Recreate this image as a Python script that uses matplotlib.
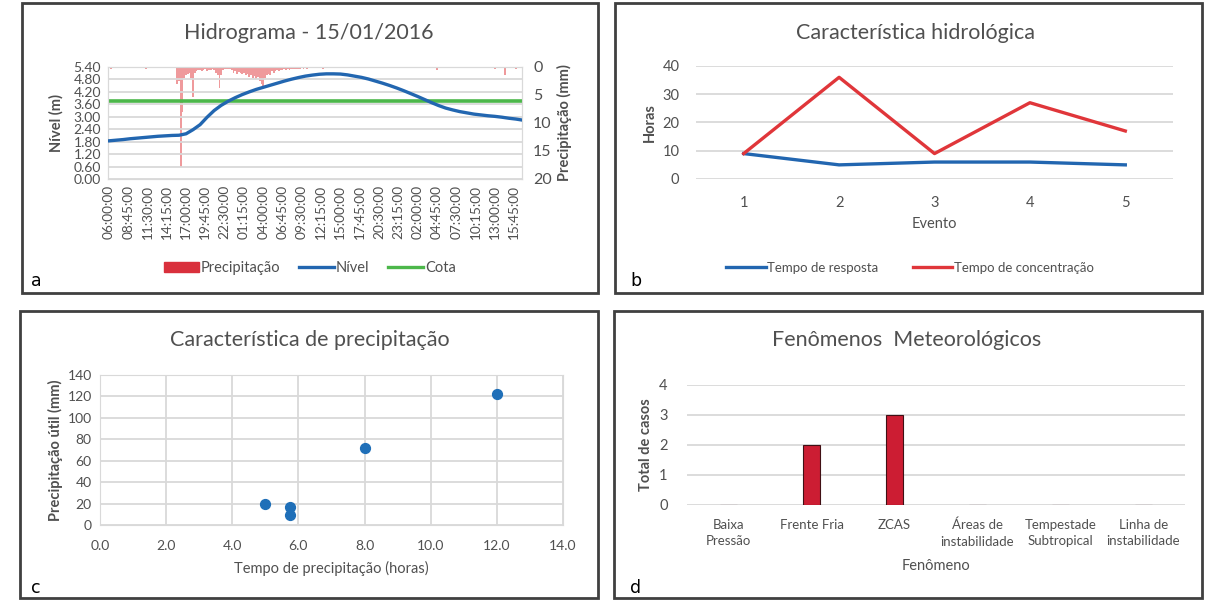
# -*- coding: utf-8 -*-
import numpy as np
import matplotlib.pyplot as plt
from matplotlib.patches import Rectangle, Patch
from matplotlib.lines import Line2D

plt.rcParams['font.family'] = ['Lato', 'DejaVu Sans']

W, H = 1205, 601
CINZA = '#505050'
GRADE = '#d9d9d9'
AZUL = '#2266b0'
VERMELHO = '#e0363a'
VERDE = '#4cb74a'

# ---- a) hidrograma: nível a cada hora (06:00 do dia 1 até 16:00 do dia 3) + 16:45 ----
nivel = [1.84, 1.87, 1.90, 1.94, 1.97, 2.00, 2.03, 2.06, 2.08, 2.10,
         2.11, 2.18, 2.38, 2.62, 2.98, 3.30, 3.55, 3.75, 3.92, 4.07,
         4.20, 4.32, 4.42, 4.52, 4.62, 4.72, 4.81, 4.89, 4.96, 5.01,
         5.05, 5.07, 5.07, 5.06, 5.02, 4.96, 4.90, 4.82, 4.72, 4.62,
         4.51, 4.39, 4.26, 4.12, 3.98, 3.83, 3.68, 3.54, 3.42, 3.33,
         3.25, 3.19, 3.13, 3.09, 3.05, 3.02, 2.98, 2.93, 2.89, 2.85]
cota = 3.78
n_registros = 236  # leituras de 15 em 15 minutos

# chuva (mm) a cada 15 min a partir do registro 39 (15:45 do dia 1)
chuva_ini = 39
chuva_evento = [3.0, 2.5, 17.9, 8.0, 2.0, 1.5, 1.2, 1.0, 2.0, 5.4,
                1.0, 0.8, 0.6, 0.5, 0.8, 0.6, 0.4, 0.7, 0.5, 0.5,
                0.4, 0.6, 1.0, 1.5, 3.8, 1.5, 0.5, 0.3, 0.3, 0.4,
                0.3, 0.6, 1.0, 0.8, 1.2, 0.9, 1.1, 1.3, 1.0, 1.5,
                1.2, 1.8, 1.4, 2.0, 1.6, 2.2, 1.8, 2.5, 3.0, 3.6,
                2.0, 1.5, 1.2, 1.4, 0.8, 1.0, 0.7, 0.6, 0.8, 0.5,
                0.6, 0.4, 0.5, 0.4, 0.5, 0.3, 0.4, 0.3, 0.4, 0.3,
                0.3, 0.2, 0.3, 0.2, 0.3, 0.2, 0.2, 0.2, 0.2]
chuva_isolada_reg = [1, 21, 122, 187, 220, 226, 232]
chuva_isolada_mm = [0.3, 0.3, 0.4, 0.6, 0.3, 1.4, 0.4]

horarios = ['06:00:00', '08:45:00', '11:30:00', '14:15:00', '17:00:00',
            '19:45:00', '22:30:00', '01:15:00', '04:00:00', '06:45:00',
            '09:30:00', '12:15:00', '15:00:00', '17:45:00', '20:30:00',
            '23:15:00', '02:00:00', '04:45:00', '07:30:00', '10:15:00',
            '13:00:00', '15:45:00']

# ---- b) característica hidrológica ----
eventos = [1, 2, 3, 4, 5]
tempo_resposta = [9, 5, 6, 6, 5]
tempo_concentracao = [9, 36, 9, 27, 17]

# ---- c) característica de precipitação ----
tempo_precip = [5.0, 5.75, 5.75, 8.0, 12.0]
precip_util = [20, 17, 9, 72, 122]

# ---- d) fenômenos meteorológicos ----
fenomenos = ['Baixa\nPressão', 'Frente Fria', 'ZCAS', 'Áreas de\ninstabilidade',
             'Tempestade\nSubtropical', 'Linha de\ninstabilidade']
total_casos = [0, 2, 3, 0, 0, 0]


def caixa(x0, y0, x1, y1):
    return [x0 / W, 1 - y1 / H, (x1 - x0) / W, (y1 - y0) / H]


def fx(x):
    return x / W


def fy(y):
    return 1 - y / H


def moldura(x0, y0, x1, y1):
    fig.add_artist(Rectangle((fx(x0), fy(y1)), (x1 - x0) / W, (y1 - y0) / H,
                             transform=fig.transFigure, fill=False,
                             ec='#404040', lw=2.0))


def estilo(ax, borda=False):
    for s in ax.spines.values():
        s.set_visible(borda)
        s.set_color(GRADE)
    ax.tick_params(length=0, colors=CINZA, labelsize=9)
    ax.set_axisbelow(True)


fig = plt.figure(figsize=(W / 100, H / 100), dpi=100)

moldura(22, 3, 598, 293)
moldura(615, 3, 1202, 293)
moldura(20, 311, 598, 598)
moldura(614, 311, 1202, 598)

# ================= a =================
ax = fig.add_axes(caixa(108, 67, 522, 179))
estilo(ax, borda=True)
x_nivel = list(np.arange(0, 233, 4)) + [235]
ax.plot(x_nivel, nivel, color=AZUL, lw=2.4, zorder=3)
ax.axhline(cota, color=VERDE, lw=2.6, zorder=2)
ax.set_xlim(-0.5, n_registros - 0.5)
ax.set_ylim(0, 5.4)
ax.set_yticks(np.arange(0, 5.41, 0.6))
ax.set_yticklabels([f'{v:.2f}' for v in np.arange(0, 5.41, 0.6)], fontsize=10)
ax.yaxis.grid(True, color=GRADE, lw=1.3)
ax.set_xticks(np.arange(0, len(horarios) * 11, 11))
ax.set_xticklabels(horarios, rotation=90, fontsize=9.8)
ax.tick_params(axis='x', pad=4)
ax.tick_params(axis='y', pad=5)
ax.set_ylabel('Nível (m)', color=CINZA, fontsize=10.5, fontweight='bold', labelpad=7)

ax2 = ax.twinx()
estilo(ax2, borda=True)
reg_evento = np.arange(chuva_ini, chuva_ini + len(chuva_evento))
ax2.bar(reg_evento, chuva_evento, width=1.0, color=VERMELHO, alpha=0.5, lw=0)
ax2.bar(chuva_isolada_reg, chuva_isolada_mm, width=1.0, color=VERMELHO, alpha=0.5, lw=0)
ax2.set_ylim(20, 0)
ax2.set_yticks([0, 5, 10, 15, 20])
ax2.tick_params(axis='y', labelsize=11.5, pad=8)
ax2.set_ylabel('Precipitação (mm)', color=CINZA, fontsize=10.5, fontweight='bold',
               labelpad=4)

ax.set_zorder(ax2.get_zorder() + 1)
ax.patch.set_visible(False)

fig.text(fx(309), fy(33), 'Hidrograma - 15/01/2016', ha='center', va='center',
         fontsize=15.5, color=CINZA)
h_a = [Patch(color='#d9303c'), Line2D([], [], color=AZUL, lw=2.4),
       Line2D([], [], color=VERDE, lw=2.4)]
fig.legend(h_a, ['Precipitação', 'Nível', 'Cota'], loc='center',
           bbox_to_anchor=(fx(310), fy(268)), ncol=3, frameon=False,
           fontsize=10.5, labelcolor=CINZA, handlelength=2.4, handletextpad=0.1,
           columnspacing=1.3)
fig.text(fx(31), fy(281), 'a', ha='left', va='center', fontsize=12.5,
         family='DejaVu Sans')

# ================= b =================
bx = fig.add_axes(caixa(696, 66, 1173, 179))
estilo(bx)
bx.plot(eventos, tempo_resposta, color=AZUL, lw=2.4)
bx.plot(eventos, tempo_concentracao, color=VERMELHO, lw=2.4)
bx.set_xlim(0.5, 5.5)
bx.set_ylim(0, 40)
bx.set_yticks([0, 10, 20, 30, 40])
bx.set_xticks(eventos)
bx.yaxis.grid(True, color=GRADE, lw=1.3)
bx.tick_params(labelsize=10.5, pad=12)
bx.tick_params(axis='y', pad=12)
bx.set_xlabel('Evento', color=CINZA, fontsize=10.5, labelpad=5)
bx.set_ylabel('Horas', color=CINZA, fontsize=10.5, fontweight='bold', labelpad=4)
fig.text(fx(916), fy(33), 'Característica hidrológica', ha='center', va='center',
         fontsize=15.5, color=CINZA)
h_b = [Line2D([], [], color=AZUL, lw=2.4), Line2D([], [], color=VERMELHO, lw=2.4)]
fig.legend(h_b, ['Tempo de resposta', 'Tempo de concentração'], loc='center',
           bbox_to_anchor=(fx(910), fy(268)), ncol=2, frameon=False,
           fontsize=9.5, labelcolor=CINZA, handlelength=3.0, handletextpad=0.1,
           columnspacing=2.6)
fig.text(fx(630), fy(281), 'b', ha='left', va='center', fontsize=12.5,
         family='DejaVu Sans')

# ================= c =================
cx = fig.add_axes(caixa(100, 375, 563, 525))
estilo(cx, borda=True)
cx.scatter(tempo_precip, precip_util, s=50, color='#1f6fb8', zorder=3)
cx.set_xlim(0, 14)
cx.set_ylim(0, 140)
cx.set_xticks(np.arange(0, 14.1, 2))
cx.set_xticklabels([f'{v:.1f}' for v in np.arange(0, 14.1, 2)])
cx.set_yticks(np.arange(0, 141, 20))
cx.grid(True, color=GRADE, lw=1.3)
cx.tick_params(labelsize=10)
cx.tick_params(axis='x', pad=11)
cx.tick_params(axis='y', pad=6)
cx.set_xlabel('Tempo de precipitação (horas)', color=CINZA, fontsize=10.5, labelpad=6)
cx.set_ylabel('Precipitação útil (mm)', color=CINZA, fontsize=10.5, fontweight='bold',
              labelpad=3)
fig.text(fx(310), fy(340), 'Característica de precipitação', ha='center',
         va='center', fontsize=15.5, color=CINZA)
fig.text(fx(31), fy(588), 'c', ha='left', va='center', fontsize=12.5,
         family='DejaVu Sans')

# ================= d =================
dx = fig.add_axes(caixa(687, 385, 1185, 505))
estilo(dx)
pos = np.arange(len(fenomenos))
dx.bar(pos, total_casos, width=0.2, color='#cc1d33', edgecolor='#401015', lw=0.8,
       zorder=3)
dx.set_xlim(-0.5, len(fenomenos) - 0.5)
dx.set_ylim(0, 4)
dx.set_yticks([0, 1, 2, 3, 4])
dx.set_xticks(pos)
dx.set_xticklabels(fenomenos, fontsize=9.5, linespacing=1.45)
dx.yaxis.grid(True, color=GRADE, lw=1.3)
dx.tick_params(axis='y', labelsize=10.5, pad=14)
dx.tick_params(axis='x', pad=10)
dx.set_xlabel('Fenômeno', color=CINZA, fontsize=10.5, labelpad=8)
dx.set_ylabel('Total de casos', color=CINZA, fontsize=10.5, fontweight='bold',
              labelpad=4)
fig.text(fx(907), fy(340), 'Fenômenos  Meteorológicos', ha='center', va='center',
         fontsize=15.5, color=CINZA)
fig.text(fx(630), fy(588), 'd', ha='left', va='center', fontsize=12.5,
         family='DejaVu Sans')

fig.savefig('out.png', dpi=100, facecolor='white')
